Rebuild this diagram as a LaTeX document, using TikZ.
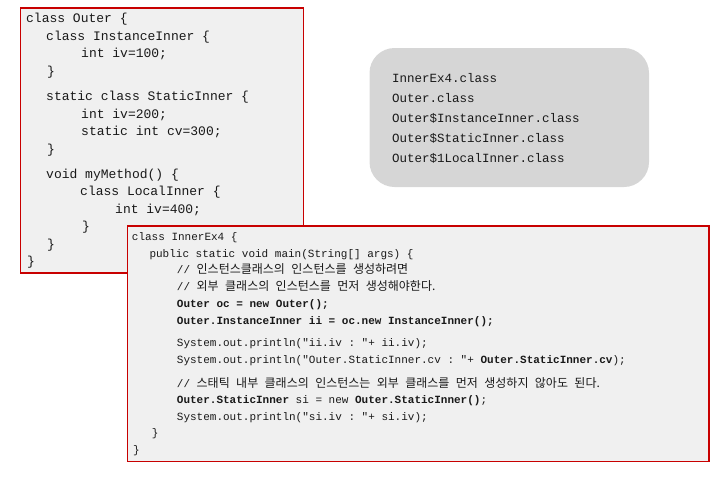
\documentclass[tikz,border=0pt]{standalone}
\usepackage{fontspec}
\setmonofont{Liberation Mono}
\newfontfamily\kr{Noto Sans CJK KR}
\definecolor{rahmen}{RGB}{200,0,0}
\definecolor{hell}{RGB}{240,240,240}
\definecolor{grau}{RGB}{214,214,214}
\newcommand{\kor}[1]{{\kr\fontsize{12}{13}\selectfont\spaceskip=6.4pt #1}}
\tikzset{
	kasten/.style={draw=rahmen, line width=1.5pt, fill=hell},
	zeile/.style={anchor=base west, inner sep=0pt, text=black!90,
		font=\ttfamily\fontsize{13}{15}\selectfont},
	zeileklein/.style={zeile, font=\ttfamily\fontsize{11}{13}\selectfont},
	zeiledatei/.style={zeile, font=\ttfamily\fontsize{12.5}{14}\selectfont}
}
\begin{document}
\begin{tikzpicture}[x=1pt, y=-1pt]
		\useasboundingbox (0,0) rectangle (720,477);
		% Klasse Outer
		\draw[kasten] (20.5,8) rectangle (303.5,273);
		\foreach \x/\y/\t [count=\n] in {26/22.5/{class Outer \{},
				46/40/{class InstanceInner \{}, 81/57.5/{int iv=100;}, 47/75/{\}},
				46/100.5/{static class StaticInner \{}, 81/118/{int iv=200;},
				81/135.5/{static int cv=300;}, 47/153/{\}},
				46/178/{void myMethod() \{}, 80/195.5/{class LocalInner \{},
				115/213/{int iv=400;}, 82/230.5/{\}}, 47/248/{\}}, 27/265.5/{\}}}
			\node[zeile] (o\n) at (\x,\y) {\t};
		% Klassendateien
		\draw[fill=grau, draw=none, rounded corners=25pt] (369.5,48) rectangle (649,187);
		\foreach \t [count=\n] in {InnerEx4.class, Outer.class,
				Outer\$InstanceInner.class, Outer\$StaticInner.class,
				Outer\$1LocalInner.class}
			\node[zeiledatei] (f\n) at (392,62+20*\n) {\t};
		% Klasse InnerEx4
		\draw[kasten] (127.5,226) rectangle (709,461.5);
		\foreach \x/\y/\t [count=\n] in {131.7/240/{class InnerEx4 \{},
				149.3/257/{public static void main(String[] args) \{},
				176.7/273.5/{// \kor{인스턴스클래스의 인스턴스를 생성하려면}},
				176.7/290.5/{// \kor{외부 클래스의 인스턴스를 먼저 생성해야한다.}},
				176.7/307/{\bfseries Outer oc = new Outer();},
				176.7/324/{\bfseries Outer.InstanceInner ii = oc.new InstanceInner();},
				176.7/346.5/{System.out.println("ii.iv : "+ ii.iv);},
				176.7/363/{System.out.println("Outer.StaticInner.cv : "+ \textbf{Outer.StaticInner.cv});},
				176.7/387/{// \kor{스태틱 내부 클래스의 인스턴스는 외부 클래스를 먼저 생성하지 않아도 된다.}},
				176.7/403/{\textbf{Outer.StaticInner} si = new \textbf{Outer.StaticInner()};},
				176.7/420/{System.out.println("si.iv : "+ si.iv);},
				151.7/436.5/{\}}, 133/453/{\}}}
			\node[zeileklein] (i\n) at (\x,\y) {\t};
	\end{tikzpicture}
\end{document}
